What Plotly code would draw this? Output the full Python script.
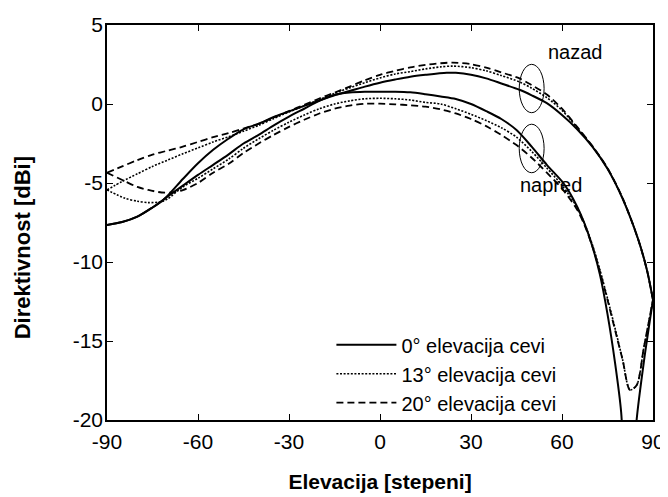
import plotly.graph_objects as go

# ---------------- data ----------------
# napred (forward) curves
x_fwd_0 = [-90, -85, -80, -75, -72, -70, -65, -60, -55, -50, -45, -40, -35, -30, -25, -20, -15,
           -10, -5, 0, 5, 10, 15, 20, 25, 30, 35, 40, 45, 50, 55, 60, 62.5, 65, 67.5, 70, 72.5,
           75, 77.5, 79.5, 80.5, 82, 83.5, 84.6, 87, 90]
y_fwd_0 = [-7.66, -7.47, -7.13, -6.55, -6.15, -5.85, -5.17, -4.49, -3.85, -3.2, -2.5, -1.95, -1.35,
           -0.8, -0.3, 0.2, 0.58, 0.72, 0.77, 0.78, 0.78, 0.74, 0.62, 0.48, 0.32, 0.0, -0.45, -0.95,
           -1.65, -2.7, -3.85, -4.9, -5.6, -6.5, -7.6, -9.0, -10.8, -13.3, -16.4, -19.5, -23.5,
           -30.0, -23.5, -20.0, -16.3, -12.4]

x_fwd_13 = [-90, -84, -80, -76.4, -72, -70, -65, -60, -55, -50, -45, -40, -35, -30, -25, -20, -15,
            -10, -5, 0, 5, 10, 15, 20, 25, 30, 35, 40, 45, 50, 55, 60, 65, 67.5, 70, 72.5, 75, 78,
            80, 82.4, 84.6, 87, 90]
y_fwd_13 = [-5.44, -5.97, -6.15, -6.24, -6.18, -6.0, -5.25, -4.7, -4.1, -3.5, -2.8, -2.2, -1.65,
            -1.15, -0.7, -0.3, 0.0, 0.2, 0.33, 0.36, 0.33, 0.25, 0.1, 0.0, -0.3, -0.65, -1.05,
            -1.5, -2.1, -3.0, -4.05, -5.15, -6.55, -7.6, -8.9, -10.5, -12.3, -14.6, -16.2, -18.1,
            -17.8, -15.4, -12.4]

x_fwd_20 = [-90, -84, -80, -76.4, -72, -68.7, -65, -60, -55, -50, -45, -40, -35, -30, -25, -20,
            -15, -10, -5, 0, 5, 10, 15, 20, 25, 30, 35, 40, 45, 50, 55, 60, 65, 67.5, 70, 72.5, 75,
            78, 80, 82.4, 84.6, 87, 90]
y_fwd_20 = [-4.35, -4.9, -5.25, -5.44, -5.6, -5.6, -5.45, -5.0, -4.35, -3.8, -3.1, -2.5, -1.95,
            -1.45, -1.0, -0.6, -0.3, -0.1, 0.02, 0.02, -0.02, -0.08, -0.17, -0.34, -0.6, -0.95,
            -1.4, -1.96, -2.6, -3.4, -4.35, -5.35, -6.7, -7.7, -9.0, -10.6, -12.4, -14.7, -16.2,
            -18.1, -17.8, -15.4, -12.4]

# nazad (backward) curves
x_back_0 = [-90, -85, -80, -75, -72, -70, -65, -60, -55, -50, -45, -40, -35, -30, -25, -20, -15,
            -10, -5, 0, 5, 10, 15, 22, 25, 30, 35, 40, 46, 50, 55, 60, 65, 70, 75, 80, 85, 88, 90]
y_back_0 = [-7.66, -7.47, -7.13, -6.55, -6.15, -5.8, -4.75, -3.75, -2.9, -2.2, -1.6, -1.25, -0.82,
            -0.47, -0.12, 0.22, 0.55, 0.82, 1.1, 1.35, 1.55, 1.73, 1.85, 1.98, 1.97, 1.85, 1.62,
            1.3, 0.9, 0.55, 0.05, -0.7, -1.6, -2.7, -4.1, -6.0, -8.5, -10.5, -12.4]

x_back_13 = [-90, -85, -80, -75, -70, -65, -60, -55, -50, -45, -40, -35, -30, -25, -20, -15, -10,
             -5, 0, 5, 10, 15, 20, 24, 30, 35, 40, 46, 50, 55, 60, 65, 70, 75, 80, 85, 88, 90]
y_back_13 = [-5.44, -4.9, -4.42, -3.95, -3.55, -3.15, -2.78, -2.4, -2.08, -1.72, -1.35, -0.92,
             -0.5, -0.12, 0.28, 0.68, 1.02, 1.35, 1.65, 1.9, 2.05, 2.22, 2.35, 2.4, 2.3, 2.1, 1.8,
             1.4, 1.0, 0.4, -0.4, -1.5, -2.68, -4.08, -5.98, -8.5, -10.5, -12.4]

x_back_20 = [-90, -85, -80, -75, -70, -65, -60, -55, -50, -45, -40, -35, -30, -25, -20, -15, -10,
             -5, 0, 5, 10, 15, 20, 24, 30, 35, 40, 46, 50, 55, 60, 65, 70, 75, 80, 85, 88, 90]
y_back_20 = [-4.35, -3.95, -3.55, -3.2, -2.95, -2.7, -2.4, -2.1, -1.85, -1.55, -1.25, -0.85,
             -0.45, -0.05, 0.35, 0.72, 1.1, 1.5, 1.85, 2.1, 2.32, 2.47, 2.58, 2.62, 2.52, 2.3, 2.0,
             1.62, 1.2, 0.6, -0.3, -1.45, -2.65, -4.06, -5.96, -8.5, -10.5, -12.4]

legend_names = ["0° elevacija cevi", "13° elevacija cevi", "20° elevacija cevi"]
x_ticks = [-90, -60, -30, 0, 30, 60, 90]
y_ticks = [5, 0, -5, -10, -15, -20]

FONT = "Liberation Sans, Arial, sans-serif"

styles = [dict(width=2, dash="solid"),
          dict(width=1.6, dash="2px,1.6px"),
          dict(width=1.8, dash="7px,4px")]

fig = go.Figure()
fwd = [(x_fwd_0, y_fwd_0), (x_fwd_13, y_fwd_13), (x_fwd_20, y_fwd_20)]
back = [(x_back_0, y_back_0), (x_back_13, y_back_13), (x_back_20, y_back_20)]
for i in range(3):
    st = styles[i]
    fig.add_trace(go.Scatter(x=fwd[i][0], y=fwd[i][1], mode="lines", name=legend_names[i],
                             legendgroup=str(i), showlegend=True,
                             line=dict(color="black", width=st["width"], dash=st["dash"],
                                       shape="spline", smoothing=0.8)))
    fig.add_trace(go.Scatter(x=back[i][0], y=back[i][1], mode="lines", name=legend_names[i],
                             legendgroup=str(i), showlegend=False,
                             line=dict(color="black", width=st["width"], dash=st["dash"],
                                       shape="spline", smoothing=0.8)))

# ellipses marking the groups
fig.add_shape(type="circle", xref="x", yref="y", x0=45.9, x1=54.1, y0=-0.55, y1=2.51,
              line=dict(color="black", width=1))
fig.add_shape(type="circle", xref="x", yref="y", x0=45.9, x1=54.1, y0=-4.35, y1=-1.28,
              line=dict(color="black", width=1))
fig.add_annotation(x=64.3, y=3.3, text="nazad", showarrow=False,
                   font=dict(family=FONT, size=20, color="black"))
fig.add_annotation(x=56.4, y=-5.13, text="napred", showarrow=False,
                   font=dict(family=FONT, size=20, color="black"))

# y-axis title (placed as rotated text, as in the reference)
fig.add_annotation(xref="paper", yref="paper", x=-0.1557, y=0.437, xanchor="center",
                   yanchor="middle", textangle=-90, showarrow=False,
                   text="<b>Direktivnost [dBi]</b>",
                   font=dict(family=FONT, size=22, color="black"))

axis_common = dict(showline=True, linecolor="black", linewidth=1.5, mirror="ticks",
                   ticks="inside", ticklen=6, tickcolor="black", tickwidth=1,
                   showgrid=False, zeroline=False, automargin=False,
                   tickfont=dict(family=FONT, size=21, color="black"))

fig.update_xaxes(range=[-90, 90], tickvals=x_ticks, ticktext=[str(v) for v in x_ticks],
                 title=dict(text="<b>Elevacija [stepeni]</b>", standoff=22,
                            font=dict(family=FONT, size=21, color="black")),
                 ticklabelstandoff=2, **axis_common)
fig.update_yaxes(range=[-20, 5], tickvals=y_ticks, ticktext=[str(v) for v in y_ticks],
                 ticklabelstandoff=-2, **axis_common)

# the page body adds an 8 px offset, so the figure is 8 px smaller than the window
fig.update_layout(
    width=660, height=489,
    margin=dict(l=99, r=15, t=17, b=77),
    plot_bgcolor="white", paper_bgcolor="white",
    font=dict(family=FONT, color="black"),
    legend=dict(x=0.411, y=0.24, xanchor="left", yanchor="top",
                bgcolor="rgba(0,0,0,0)", borderwidth=0,
                font=dict(family=FONT, size=20, color="black"),
                tracegroupgap=0, itemwidth=60),
)

fig.write_html("out.html")
